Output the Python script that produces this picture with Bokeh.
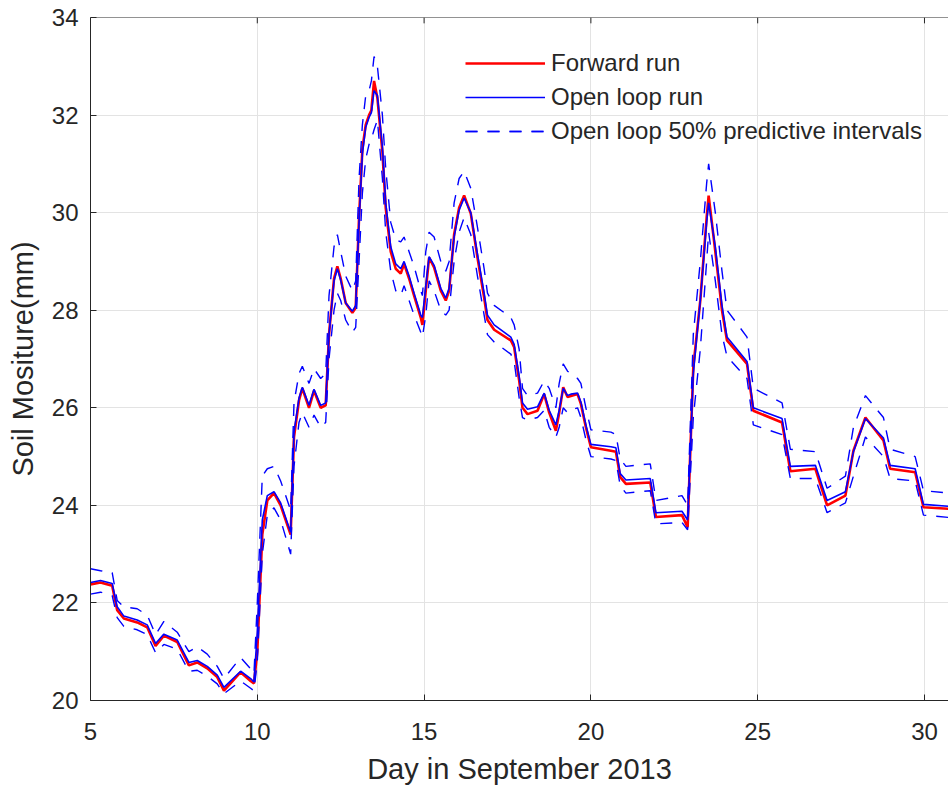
from bokeh.plotting import figure
from bokeh.models import Range1d, FixedTicker, Legend, LegendItem, Span
from bokeh.embed import file_html
from bokeh.resources import INLINE

# Soil moisture simulation, September 2013
day = [5.0, 5.3, 5.65, 5.8, 6.0, 6.4, 6.7, 6.95, 7.2, 7.6, 7.95, 8.2, 8.5, 8.8, 9.0, 9.5, 9.8, 9.9,
       10.0, 10.15, 10.3, 10.5, 10.7, 11.0, 11.1, 11.25, 11.35, 11.55, 11.7, 11.9, 12.05, 12.15,
       12.3, 12.4, 12.5, 12.65, 12.85, 12.95, 13.05, 13.15, 13.25, 13.35, 13.42, 13.5, 13.6,
       13.75, 13.85, 14.0, 14.15, 14.3, 14.4, 14.55, 14.7, 14.9, 14.95, 15.05, 15.15, 15.3,
       15.5, 15.65, 15.75, 15.9, 16.05, 16.2, 16.4, 16.6, 16.8, 16.9, 17.1, 17.6, 17.7, 17.85,
       17.95, 18.1, 18.4, 18.6, 18.75, 18.95, 19.05, 19.17, 19.3, 19.4, 19.6, 19.7, 19.85, 20.0,
       20.6, 20.75, 20.88, 21.05, 21.78, 21.95, 22.73, 22.9, 23.07, 23.28, 23.47, 23.53, 23.73,
       23.93, 24.08, 24.68, 24.87, 25.73, 25.98, 26.73, 27.08, 27.63, 27.87, 28.23, 28.77,
       28.97, 29.72, 29.97, 30.75]

forward_run = [22.38, 22.42, 22.35, 21.85, 21.68, 21.60, 21.50, 21.12, 21.33, 21.20, 20.72, 20.78,
               20.66, 20.48, 20.20, 20.58, 20.40, 20.35, 21.00, 23.40, 24.10, 24.25, 24.00, 23.40,
               25.40, 26.15, 26.40, 26.00, 26.35, 26.00, 26.05, 27.50, 28.65, 28.90, 28.65, 28.15,
               27.95, 28.05, 29.90, 31.30, 31.80, 32.00, 32.10, 32.70, 32.35, 31.25, 30.10, 29.20,
               28.85, 28.75, 28.95, 28.65, 28.30, 27.85, 27.70, 28.40, 29.08, 28.88, 28.40, 28.20,
               28.40, 29.55, 30.10, 30.35, 29.98, 29.08, 28.26, 27.80, 27.60, 27.38, 27.24, 26.56,
               26.00, 25.87, 25.94, 26.28, 25.90, 25.53, 25.90, 26.42, 26.22, 26.24, 26.28, 26.08,
               25.60, 25.19, 25.12, 25.10, 24.58, 24.44, 24.47, 23.76, 23.80, 23.55, 26.83, 28.20,
               29.90, 30.35, 29.20, 28.00, 27.38, 26.90, 25.94, 25.70, 24.70, 24.75, 24.00, 24.20,
               25.12, 25.80, 25.33, 24.75, 24.68, 23.96, 23.93]

open_loop = [22.42, 22.46, 22.40, 21.92, 21.73, 21.65, 21.55, 21.17, 21.36, 21.24, 20.78, 20.82,
             20.70, 20.52, 20.27, 20.60, 20.45, 20.38, 21.40, 23.70, 24.20, 24.28, 24.05, 23.45,
             25.50, 26.20, 26.42, 26.05, 26.38, 26.05, 26.10, 27.50, 28.60, 28.85, 28.62, 28.15,
             27.98, 28.10, 29.80, 31.20, 31.75, 31.95, 32.05, 32.50, 32.40, 31.35, 30.20, 29.30,
             28.95, 28.85, 29.00, 28.70, 28.35, 27.90, 27.85, 28.50, 29.10, 28.92, 28.45, 28.25,
             28.45, 29.50, 30.05, 30.30, 30.00, 29.15, 28.35, 27.90, 27.70, 27.45, 27.30, 26.65,
             26.10, 25.97, 26.02, 26.30, 25.95, 25.65, 25.95, 26.40, 26.25, 26.28, 26.30, 26.12,
             25.65, 25.25, 25.20, 25.18, 24.65, 24.52, 24.55, 23.85, 23.88, 23.70, 26.70, 28.20,
             29.80, 30.20, 29.30, 28.10, 27.45, 26.95, 26.00, 25.78, 24.80, 24.82, 24.10, 24.28,
             25.10, 25.78, 25.38, 24.82, 24.75, 24.02, 23.98]

upper_50 = [22.70, 22.66, 22.62, 22.05, 21.92, 21.88, 21.75, 21.35, 21.62, 21.40, 21.00, 21.10,
            20.95, 20.70, 20.45, 20.88, 20.65, 20.55, 22.00, 24.60, 24.75, 24.80, 24.50, 23.90,
            26.10, 26.70, 26.85, 26.50, 26.80, 26.60, 26.70, 28.30, 29.30, 29.55, 29.20, 28.70,
            28.40, 28.60, 30.70, 31.80, 32.40, 32.50, 32.70, 33.20, 33.00, 32.00, 30.90, 29.80,
            29.45, 29.40, 29.50, 29.20, 28.90, 28.40, 28.30, 29.20, 29.60, 29.50, 29.00, 28.80,
            29.00, 30.20, 30.70, 30.85, 30.50, 29.70, 28.85, 28.35, 28.10, 27.85, 27.70, 27.20,
            26.40, 26.25, 26.30, 26.55, 26.40, 26.00, 26.50, 26.90, 26.75, 26.70, 26.60, 26.50,
            26.00, 25.55, 25.50, 25.45, 24.95, 24.80, 24.85, 24.10, 24.20, 24.00, 27.50, 29.00,
            30.60, 31.00, 30.00, 28.80, 28.00, 27.45, 26.40, 26.10, 25.15, 25.10, 24.35, 24.60,
            25.60, 26.25, 25.80, 25.15, 25.00, 24.30, 24.25]

lower_50 = [22.18, 22.22, 22.15, 21.70, 21.52, 21.45, 21.35, 20.98, 21.15, 21.05, 20.60, 20.62,
            20.50, 20.34, 20.14, 20.40, 20.25, 20.20, 20.80, 23.00, 23.80, 23.95, 23.70, 23.00,
            24.80, 25.70, 25.90, 25.60, 25.85, 25.60, 25.70, 27.00, 28.00, 28.35, 28.20, 27.80,
            27.55, 27.65, 29.00, 30.40, 31.10, 31.40, 31.50, 31.70, 31.90, 30.70, 29.60, 28.80,
            28.40, 28.30, 28.50, 28.20, 27.90, 27.55, 27.45, 27.90, 28.60, 28.40, 28.00, 27.90,
            28.00, 29.00, 29.60, 29.90, 29.55, 28.70, 27.90, 27.50, 27.35, 27.10, 26.95, 26.20,
            25.80, 25.75, 25.80, 25.95, 25.60, 25.40, 25.60, 26.00, 25.90, 25.95, 26.00, 25.80,
            25.35, 25.00, 24.95, 24.92, 24.40, 24.25, 24.30, 23.62, 23.65, 23.50, 25.80, 27.20,
            29.00, 29.60, 28.60, 27.50, 27.05, 26.60, 25.65, 25.45, 24.55, 24.55, 23.85, 24.05,
            24.60, 25.40, 25.00, 24.55, 24.50, 23.80, 23.75]

x_ticks = [5, 10, 15, 20, 25, 30]
y_ticks = [20, 22, 24, 26, 28, 30, 32, 34]

FONT = "Liberation Sans"
INK = "#262626"
GRID = "#e3e3e3"

p = figure(width=948, height=787, output_backend="svg", toolbar_location=None,
           x_range=Range1d(5, 30.72), y_range=Range1d(20, 34),
           min_border_left=90, min_border_top=17, min_border_bottom=87, min_border_right=0)
p.outline_line_color = None
p.background_fill_color = "white"

for ax in (p.xaxis[0], p.yaxis[0]):
    ax.axis_line_color = INK
    ax.axis_line_width = 1
    ax.major_tick_in = 6
    ax.major_tick_out = 0
    ax.minor_tick_line_color = None
    ax.major_tick_line_color = INK
    ax.major_label_text_font = FONT
    ax.major_label_text_font_size = "24px"
    ax.major_label_text_color = INK
    ax.axis_label_text_font = FONT
    ax.axis_label_text_font_size = "29px"
    ax.axis_label_text_color = INK
    ax.axis_label_text_font_style = "normal"

p.xaxis.ticker = FixedTicker(ticks=x_ticks)
p.yaxis.ticker = FixedTicker(ticks=y_ticks)
p.xaxis.axis_label = "Day in September 2013"
p.yaxis.axis_label = "Soil Mositure(mm)"
p.xaxis.major_label_standoff = 22
p.yaxis.major_label_standoff = 12
p.xaxis.axis_label_standoff = 10
p.yaxis.axis_label_standoff = 10

p.xgrid.ticker = FixedTicker(ticks=x_ticks)
p.ygrid.ticker = FixedTicker(ticks=y_ticks)
p.grid.grid_line_color = GRID
p.grid.grid_line_width = 1

# top edge of the box, with inward tick marks
p.add_layout(Span(location=34, dimension="width", line_color=INK, line_width=1))
p.segment(x0=x_ticks, y0=[34] * len(x_ticks), x1=x_ticks, y1=[33.88] * len(x_ticks),
          line_color=INK, line_width=1)

r_fwd = p.line(day, forward_run, line_color="#ff0000", line_width=2.6)
r_open = p.line(day, open_loop, line_color="#0000ff", line_width=1.6)
r_up = p.line(day, upper_50, line_color="#0000ff", line_width=1.4, line_dash="12 10")
r_lo = p.line(day, lower_50, line_color="#0000ff", line_width=1.4, line_dash="12 10")

legend = Legend(items=[
    LegendItem(label="Forward run", renderers=[r_fwd]),
    LegendItem(label="Open loop run", renderers=[r_open]),
    LegendItem(label="Open loop 50% predictive intervals", renderers=[r_up, r_lo]),
], location=(365, 545))
legend.border_line_alpha = 0
legend.background_fill_alpha = 0
legend.glyph_width = 80
legend.glyph_height = 28
legend.label_height = 28
legend.spacing = 6
legend.padding = 10
legend.label_standoff = 6
legend.label_text_font = FONT
legend.label_text_font_size = "24px"
legend.label_text_color = INK
p.add_layout(legend, "center")

open("out.html", "w").write(file_html(p, INLINE))
